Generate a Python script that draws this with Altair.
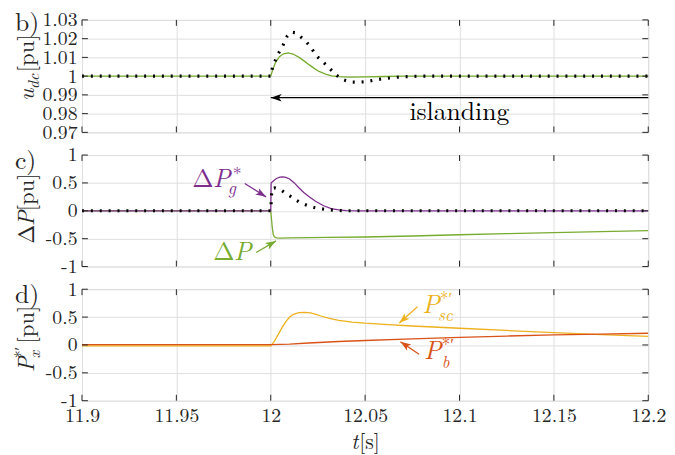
import altair as alt
import pandas as pd

FONT = "Latin Modern Roman"
AX = "#262626"
GRID = "#dedede"
GREEN = "#77AC30"
PURPLE = "#7E2F8E"
YELLOW = "#EDB120"
ORANGE = "#D95319"
BLACK = "#000000"

W = 574
HB, HC, HD = 114, 113, 113

# ---------------- tick values ----------------
x_ticks = [11.9, 11.95, 12.0, 12.05, 12.1, 12.15, 12.2]
b_ticks = [0.97, 0.98, 0.99, 1.0, 1.01, 1.02, 1.03]
cd_ticks = [-1.0, -0.5, 0.0, 0.5, 1.0]

# ---------------- panel b: u_dc ----------------
b_green_t = [11.9, 12.0, 12.001, 12.0025, 12.0046, 12.0068, 12.0092, 12.0118, 12.015, 12.0178,
             12.0204, 12.0232, 12.0256, 12.029, 12.0323, 12.036, 12.042, 12.05, 12.06, 12.07, 12.2]
b_green_v = [1.0, 1.0, 1.0033, 1.0072, 1.0104, 1.0119, 1.0124, 1.0118, 1.0100, 1.0080,
             1.0060, 1.0040, 1.0025, 1.0011, 1.0002, 0.9997, 0.9995, 0.9996, 0.9998, 1.0, 1.0]
b_black_t = [11.9, 12.0, 12.001, 12.0035, 12.0065, 12.0088, 12.0108, 12.0128, 12.015, 12.0178,
             12.0204, 12.0246, 12.03, 12.0345, 12.038, 12.042, 12.046, 12.05, 12.054, 12.058,
             12.063, 12.07, 12.08, 12.2]
b_black_v = [1.0, 1.0, 1.005, 1.011, 1.0165, 1.0215, 1.0235, 1.0232, 1.0217, 1.0193,
             1.0165, 1.0104, 1.0054, 1.0007, 0.9982, 0.9969, 0.9967, 0.997, 0.9977, 0.9984,
             0.999, 0.9997, 1.0, 1.0]

# ---------------- panel c: delta P ----------------
c_purple_t = [11.9, 12.0, 12.0002, 12.0015, 12.003, 12.0048, 12.0064, 12.008, 12.01, 12.0125,
              12.015, 12.0175, 12.02, 12.0237, 12.028, 12.032, 12.036, 12.04, 12.046, 12.2]
c_purple_v = [0.0, 0.0, 0.5, 0.54, 0.58, 0.605, 0.61, 0.6, 0.57, 0.5,
              0.41, 0.33, 0.26, 0.17, 0.09, 0.04, 0.015, 0.005, 0.0, 0.0]
c_black_t = [11.9, 12.0, 12.0006, 12.002, 12.004, 12.006, 12.008, 12.01, 12.0125, 12.015,
             12.0175, 12.02, 12.023, 12.026, 12.03, 12.034, 12.04, 12.2]
c_black_v = [0.0, 0.0, 0.4, 0.41, 0.39, 0.36, 0.31, 0.27, 0.21, 0.16,
             0.12, 0.09, 0.06, 0.04, 0.02, 0.01, 0.0, 0.0]
c_green_t = [11.9, 12.0, 12.0004, 12.0008, 12.0013, 12.002, 12.003, 12.005, 12.01, 12.03,
             12.05, 12.075, 12.1, 12.125, 12.15, 12.175, 12.2]
c_green_v = [0.0, 0.0, -0.15, -0.3, -0.42, -0.47, -0.485, -0.49, -0.485, -0.478,
             -0.47, -0.452, -0.43, -0.41, -0.39, -0.373, -0.355]

# ---------------- panel d: P_x ----------------
d_yellow_t = [11.9, 12.0, 12.002, 12.004, 12.006, 12.008, 12.01, 12.012, 12.015, 12.018,
              12.021, 12.024, 12.027, 12.031, 12.036, 12.043, 12.05, 12.06, 12.075, 12.1,
              12.125, 12.15, 12.175, 12.2]
d_yellow_v = [-0.015, -0.015, 0.07, 0.19, 0.31, 0.42, 0.5, 0.55, 0.58, 0.585,
              0.575, 0.55, 0.515, 0.475, 0.44, 0.41, 0.39, 0.37, 0.34, 0.3,
              0.26, 0.22, 0.185, 0.155]
d_orange_t = [11.9, 12.0, 12.01, 12.02, 12.036, 12.05, 12.075, 12.1, 12.125, 12.15, 12.175, 12.2]
d_orange_v = [0.005, 0.005, 0.015, 0.035, 0.062, 0.08, 0.11, 0.135, 0.16, 0.18, 0.195, 0.21]

# ---------------- annotations (data coordinates) ----------------
isl_arrow = [12.0, 12.2, 0.9885]          # t_tip, t_end, v
isl_text = [12.0999, 0.9766]
pg_text = [11.9584, 0.434]
pg_arrow = [11.9862, 0.49, 11.9975, 0.25, 31.5]
dp_text = [11.9695, -0.876]
dp_arrow = [11.9923, -0.747, 12.0028, -0.54, 329.7]
psc_text = [12.0803, 0.570]
psc_arrow = [12.0777, 0.687, 12.0681, 0.393, 137.8]
pb_text = [12.0812, -0.257]
pb_arrow = [12.0786, -0.168, 12.0687, 0.057, 213.8]

HEAD = "M0,0 L-2,-0.7 L-1.5,0 L-2,0.7 Z"
LBL = "datum.value + ''"


def make_xy(ydomain, yticks, show_x):
    X = alt.X("t:Q", scale=alt.Scale(domain=[11.9, 12.2], nice=False, zero=False),
              axis=alt.Axis(values=x_ticks, labels=show_x, ticks=False, domain=False, grid=True,
                            gridColor=GRID, gridWidth=1, title=None, labelExpr=LBL,
                            labelFont=FONT, labelFontSize=20, labelColor=AX, labelPadding=5,
                            labelFlush=False, labelOverlap=False))
    Y = alt.Y("v:Q", scale=alt.Scale(domain=ydomain, nice=False, zero=False),
              axis=alt.Axis(values=yticks, ticks=False, domain=False, grid=True,
                            gridColor=GRID, gridWidth=1, title=None, labelExpr=LBL,
                            labelFont=FONT, labelFontSize=20, labelColor=AX, labelPadding=5,
                            labelFlush=False, labelOverlap=False))
    return X, Y


def line(ts, vs, X, Y, color, width=1.3, dash=None):
    kw = dict(color=color, strokeWidth=width, clip=True)
    if dash:
        kw["strokeDash"] = dash
        kw["strokeCap"] = "butt"
    return alt.Chart(pd.DataFrame({"t": ts, "v": vs})).mark_line(**kw).encode(x=X, y=Y)


def ticks(h, yticks, X, Y):
    tx = alt.Chart(pd.DataFrame({"t": x_ticks})).mark_rule(color=AX, strokeWidth=1)
    ty = alt.Chart(pd.DataFrame({"v": yticks})).mark_rule(color=AX, strokeWidth=1)
    return [
        tx.encode(x=X, y=alt.value(0), y2=alt.value(6)),
        tx.encode(x=X, y=alt.value(h - 6), y2=alt.value(h)),
        ty.encode(y=Y, x=alt.value(0), x2=alt.value(6)),
        ty.encode(y=Y, x=alt.value(W - 6), x2=alt.value(W)),
    ]


def text_kw(text, size, color, italic, align, angle=0):
    kw = dict(text=text, fontSize=size, font=FONT, color=color, align=align, baseline="alphabetic")
    if italic:
        kw["fontStyle"] = "italic"
    if angle:
        kw["angle"] = angle
    return kw


def ptext(px, py, text, size, italic=False, color=AX, angle=0, align="left"):
    return alt.Chart(pd.DataFrame({"k": [0]})).mark_text(
        **text_kw(text, size, color, italic, align, angle)).encode(x=alt.value(px), y=alt.value(py))


def dtext(t, v, text, size, X, Y, color, italic=False, dx=0, dy=0, align="left"):
    kw = text_kw(text, size, color, italic, align)
    if dx:
        kw["dx"] = dx
    if dy:
        kw["dy"] = dy
    return alt.Chart(pd.DataFrame({"t": [t], "v": [v]})).mark_text(**kw).encode(x=X, y=Y)


def arrow(t0, v0, t1, v1, angle, color, X, Y):
    rule = alt.Chart(pd.DataFrame({"t": [t0], "v": [v0], "t2": [t1], "v2": [v1]})).mark_rule(
        color=color, strokeWidth=1.3).encode(x=X, y=Y, x2="t2:Q", y2="v2:Q")
    head = alt.Chart(pd.DataFrame({"t": [t1], "v": [v1]})).mark_point(
        shape=HEAD, size=115, filled=True, color=color, opacity=1, angle=angle).encode(x=X, y=Y)
    return [rule, head]


# ---------------- panel b ----------------
Xb, Yb = make_xy([0.97, 1.03], b_ticks, False)
pb_layers = [
    line(b_green_t, b_green_v, Xb, Yb, GREEN),
    line(b_black_t, b_black_v, Xb, Yb, BLACK, width=3.2, dash=[2, 7]),
    alt.Chart(pd.DataFrame({"t": [isl_arrow[0]], "v": [isl_arrow[2]], "t2": [isl_arrow[1]]}))
    .mark_rule(color=BLACK, strokeWidth=1.2).encode(x=Xb, y=Yb, x2="t2:Q"),
    alt.Chart(pd.DataFrame({"t": [isl_arrow[0]], "v": [isl_arrow[2]]})).mark_point(
        shape=HEAD, size=121, filled=True, color=BLACK, opacity=1, angle=180).encode(x=Xb, y=Yb),
    dtext(isl_text[0], isl_text[1], "islanding", 26, Xb, Yb, BLACK, align="center"),
] + ticks(HB, b_ticks, Xb, Yb) + [
    ptext(-68, 11, "b)", 26),
    ptext(-49, 82, "u", 23, italic=True, angle=270),
    ptext(-44, 70, "dc", 16, italic=True, angle=270),
    ptext(-49, 53, "[pu]", 23, angle=270),
]
panel_b = alt.layer(*pb_layers).properties(width=W, height=HB)

# ---------------- panel c ----------------
Xc, Yc = make_xy([-1, 1], cd_ticks, False)
pc_layers = [
    line(c_green_t, c_green_v, Xc, Yc, GREEN),
    line(c_purple_t, c_purple_v, Xc, Yc, PURPLE),
    line(c_black_t, c_black_v, Xc, Yc, BLACK, width=3.2, dash=[2, 7]),
    dtext(pg_text[0], pg_text[1], "Δ", 26, Xc, Yc, PURPLE),
    dtext(pg_text[0], pg_text[1], "P", 26, Xc, Yc, PURPLE, italic=True, dx=21),
    dtext(pg_text[0], pg_text[1], "*", 18, Xc, Yc, PURPLE, dx=41, dy=-7),
    dtext(pg_text[0], pg_text[1], "g", 18, Xc, Yc, PURPLE, italic=True, dx=36, dy=8),
    dtext(dp_text[0], dp_text[1], "Δ", 26, Xc, Yc, GREEN),
    dtext(dp_text[0], dp_text[1], "P", 26, Xc, Yc, GREEN, italic=True, dx=21),
] + arrow(*pg_arrow[:4], pg_arrow[4], PURPLE, Xc, Yc) \
  + arrow(*dp_arrow[:4], dp_arrow[4], GREEN, Xc, Yc) \
  + ticks(HC, cd_ticks, Xc, Yc) + [
    ptext(-68, 14, "c)", 26),
    ptext(-49, 90, "Δ", 23, angle=270),
    ptext(-49, 72, "P", 23, italic=True, angle=270),
    ptext(-49, 57, "[pu]", 23, angle=270),
]
panel_c = alt.layer(*pc_layers).properties(width=W, height=HC)

# ---------------- panel d ----------------
Xd, Yd = make_xy([-1, 1], cd_ticks, True)
pd_layers = [
    line(d_yellow_t, d_yellow_v, Xd, Yd, YELLOW),
    line(d_orange_t, d_orange_v, Xd, Yd, ORANGE),
    dtext(psc_text[0], psc_text[1], "P", 26, Xd, Yd, YELLOW, italic=True),
    dtext(psc_text[0], psc_text[1], "*′", 17, Xd, Yd, YELLOW, dx=18, dy=-9),
    dtext(psc_text[0], psc_text[1], "sc", 17, Xd, Yd, YELLOW, italic=True, dx=16, dy=8),
    dtext(pb_text[0], pb_text[1], "P", 26, Xd, Yd, ORANGE, italic=True),
    dtext(pb_text[0], pb_text[1], "*′", 17, Xd, Yd, ORANGE, dx=18, dy=-9),
    dtext(pb_text[0], pb_text[1], "b", 17, Xd, Yd, ORANGE, italic=True, dx=18, dy=9),
] + arrow(*psc_arrow[:4], psc_arrow[4], YELLOW, Xd, Yd) \
  + arrow(*pb_arrow[:4], pb_arrow[4], ORANGE, Xd, Yd) \
  + ticks(HD, cd_ticks, Xd, Yd) + [
    ptext(-68, 14, "d)", 26),
    ptext(-49, 84, "P", 23, italic=True, angle=270),
    ptext(-43, 70, "x", 16, italic=True, angle=270),
    ptext(-57, 70, "*′", 16, angle=270),
    ptext(-49, 55, "[pu]", 23, angle=270),
    ptext(273, HD + 49, "t", 22, italic=True),
    ptext(281, HD + 49, "[s]", 22),
]
panel_d = alt.layer(*pd_layers).properties(width=W, height=HD)

chart = alt.vconcat(panel_b, panel_c, panel_d, spacing=23, bounds="flush").properties(
    padding={"left": 4, "top": -2, "right": 0, "bottom": 0}
).configure_view(stroke=AX, strokeWidth=1).configure(background="white")

chart.save("out.html", embed_options={"renderer": "svg", "actions": False})
